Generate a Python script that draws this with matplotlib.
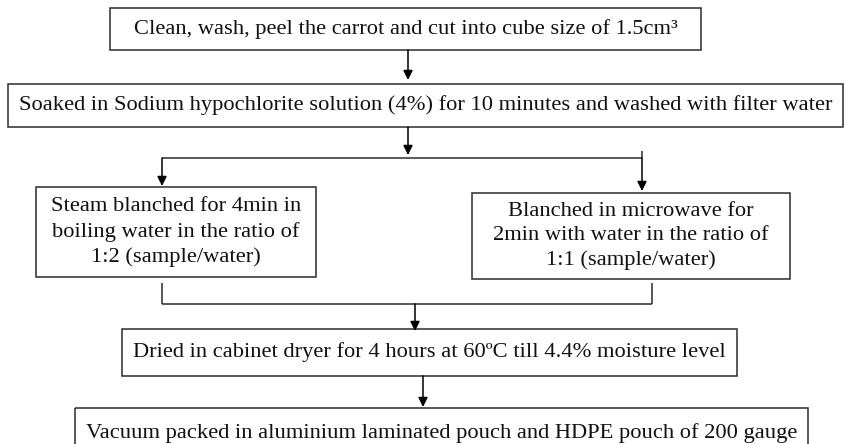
import matplotlib
matplotlib.use("Agg")
import matplotlib.pyplot as plt
from matplotlib.patches import Rectangle

plt.rcParams['font.family'] = ['Liberation Serif', 'DejaVu Serif']

# step texts of the flow chart
step_top = "Clean, wash, peel the carrot and cut into cube size of 1.5cm³"
step_wash = "Soaked in Sodium hypochlorite solution (4%) for 10 minutes and washed with filter water"
step_left = "Steam blanched for 4min in\nboiling water in the ratio of\n1:2 (sample/water)"
step_right = "Blanched in microwave for\n2min with water in the ratio of\n1:1 (sample/water)"
step_dry = "Dried in cabinet dryer for 4 hours at 60ºC till 4.4% moisture level"
step_pack = "Vacuum packed in aluminium laminated pouch and HDPE pouch of 200 gauge"

W, H = 846, 444
fig = plt.figure(figsize=(W / 100, H / 100), dpi=100)
ax = fig.add_axes([0, 0, 1, 1])
ax.set_xlim(0, W)
ax.set_ylim(H, 0)
ax.axis('off')

ec = '#2b2b2b'
fs = 16.2


def box(x0, y0, x1, y1, txt, ls=1.0):
    ax.add_patch(Rectangle((x0, y0), x1 - x0, y1 - y0, fill=False,
                           edgecolor=ec, lw=1.1))
    ax.text((x0 + x1) / 2, (y0 + y1) / 2, txt, ha='center', va='center',
            fontsize=fs, linespacing=ls, color='#111111')


def arrow(x, y0, y1):
    ax.annotate('', xy=(x, y1), xytext=(x, y0),
                arrowprops=dict(arrowstyle='-|>', color='black', lw=1.1,
                                mutation_scale=14, shrinkA=0, shrinkB=0))


def line(xs, ys):
    ax.plot(xs, ys, color=ec, lw=1.1, solid_capstyle='butt')


box(110, 8, 701, 50, step_top)
arrow(408, 50, 80)
box(8, 84, 843, 127, step_wash)
arrow(408, 127, 155)

# split
line([162, 642], [158, 158])
line([642, 642], [151, 158])
arrow(162, 158, 186)
arrow(642, 158, 191)
box(36, 187, 316, 277, step_left, ls=1.38)
box(472, 193, 790, 279, step_right, ls=1.38)

# merge
line([162, 162], [283, 304])
line([652, 652], [283, 304])
line([162, 652], [304, 304])
arrow(415, 304, 331)
box(122, 329, 737, 376, step_dry)
arrow(423, 376, 407)
box(75, 408, 808, 458, step_pack)

fig.savefig('out.png', dpi=100)
